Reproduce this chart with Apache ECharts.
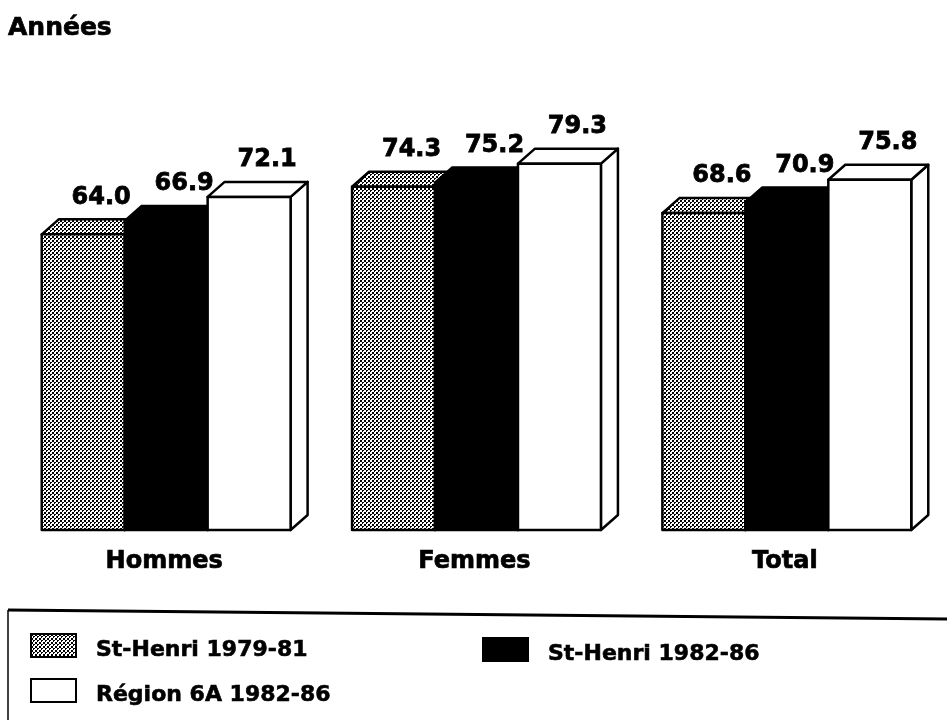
<!DOCTYPE html>
<html><head><meta charset="utf-8">
<style>html,body{margin:0;padding:0;background:#fff}#c{width:947px;height:721px}</style>
<script src="https://cdn.jsdelivr.net/npm/echarts@6/dist/echarts.min.js"></script>
</head><body><div id="c"></div>
<script>
const categories = ['Hommes', 'Femmes', 'Total'];
const seriesNames = ['St-Henri 1979-81', 'St-Henri 1982-86', 'Région 6A 1982-86'];
const stHenri7981 = [64.0, 74.3, 68.6];
const stHenri8286 = [66.9, 75.2, 70.9];
const region6A8286 = [72.1, 79.3, 75.8];
const titleText = 'Années';

const FONT = '"DejaVu Sans", sans-serif';
const tile = document.createElement('canvas');
tile.width = tile.height = 4;
const t = tile.getContext('2d');
t.fillStyle = '#fff'; t.fillRect(0, 0, 4, 4);
t.fillStyle = '#000'; t.fillRect(0, 0, 2, 2); t.fillRect(2, 2, 2, 1); t.fillRect(2, 3, 1, 1);
const stipple = { image: tile, repeat: 'repeat' };

const fills = [stipple, '#000', '#fff'];
const DX = 17, DY = 15, BAR_FRAC = 83 / 310.5;

function makeSeries(idx, values) {
  return {
    type: 'custom',
    name: seriesNames[idx],
    itemStyle: { color: fills[idx], borderColor: '#000', borderWidth: 2 },
    encode: { x: 0, y: 1 },
    data: values.map((v, i) => [i, v]),
    renderItem: function (params, api) {
      const cat = api.value(0), val = api.value(1);
      const top = api.coord([cat, val]);
      const base = api.coord([cat, 0]);
      const w = api.size([1, 0])[0] * BAR_FRAC;
      const x0 = top[0] + (idx - 1.5) * w, x1 = x0 + w;
      const yT = top[1], yB = base[1];
      const line = { stroke: '#000', lineWidth: 2.5, lineJoin: 'round' };
      const fill = fills[idx];
      return {
        type: 'group',
        children: [
          { type: 'polygon', shape: { points: [[x1, yT], [x1 + DX, yT - DY], [x1 + DX, yB - DY], [x1, yB]] },
            style: Object.assign({ fill: idx === 0 ? '#000' : fill }, line) },
          { type: 'polygon', shape: { points: [[x0, yT], [x0 + DX, yT - DY], [x1 + DX, yT - DY], [x1, yT]] },
            style: Object.assign({ fill: fill }, line) },
          { type: 'rect', shape: { x: x0, y: yT, width: w, height: yB - yT },
            style: Object.assign({ fill: fill }, line) },
          { type: 'text', z2: 50,
            style: { x: (x0 + x1) / 2 + 18, y: yT - 37, text: val.toFixed(1), fill: '#000',
              stroke: '#000', lineWidth: 0.8,
              font: 'bold 24px ' + FONT, align: 'center', verticalAlign: 'middle' } }
        ]
      };
    }
  };
}

function legendAt(name, left, top) {
  return {
    data: [{ name: name, icon: 'rect' }], left: left, top: top, orient: 'horizontal',
    itemWidth: 45, itemHeight: 23, padding: 0,
    selectedMode: false,
    formatter: '{t|{name}}',
    itemStyle: { borderColor: '#000', borderWidth: 2 },
    textStyle: { rich: { t: { fontFamily: FONT, fontWeight: 'bold', fontSize: 22, color: '#000',
      textBorderColor: '#000', textBorderWidth: 0.6, padding: [10, 0, 0, 15] } } }
  };
}

const chart = echarts.init(document.getElementById('c'), null, { renderer: 'canvas' });
chart.setOption({
  animation: false,
  backgroundColor: '#fff',
  title: { text: titleText, left: 8, top: 16, padding: 0,
    textStyle: { fontFamily: FONT, fontWeight: 'bold', fontSize: 25, color: '#000',
      textBorderColor: '#000', textBorderWidth: 0.7 } },
  legend: [
    legendAt(seriesNames[0], 30, 633),
    legendAt(seriesNames[1], 482, 637),
    legendAt(seriesNames[2], 30, 678)
  ],
  grid: { left: 11, width: 931, top: 68, height: 462 },
  xAxis: {
    type: 'category', data: categories,
    axisLine: { show: false }, axisTick: { show: false }, splitLine: { show: false },
    axisLabel: { margin: 20, color: '#000', fontFamily: FONT, fontWeight: 'bold', fontSize: 24,
      textBorderColor: '#000', textBorderWidth: 0.7, padding: [0, 4, 0, 0] }
  },
  yAxis: { type: 'value', min: 0, max: 100, show: false, splitLine: { show: false } },
  graphic: [
    { type: 'polyline', z: 10, shape: { points: [[8, 720], [8, 610]] }, style: { stroke: '#000', lineWidth: 1.5, fill: null } },
    { type: 'polyline', z: 10, shape: { points: [[8, 610], [947, 619]] }, style: { stroke: '#000', lineWidth: 3, fill: null } }
  ],
  series: [makeSeries(0, stHenri7981), makeSeries(1, stHenri8286), makeSeries(2, region6A8286)]
});
</script></body></html>
